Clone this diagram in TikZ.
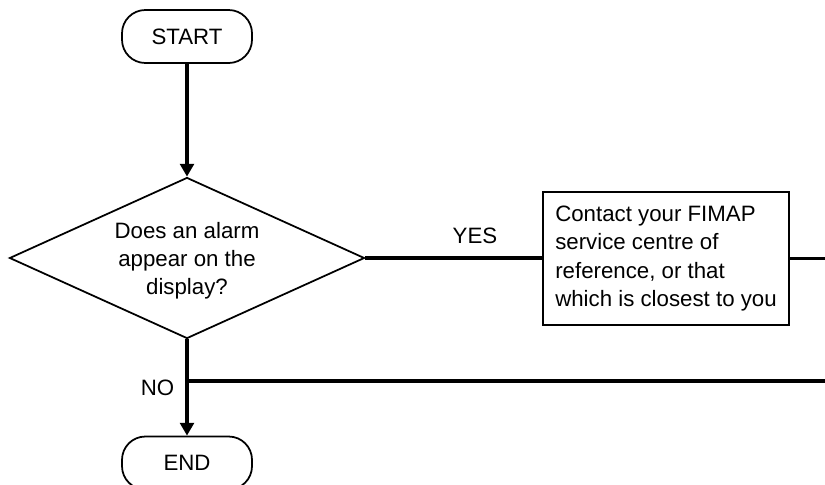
\documentclass[tikz,border=0pt]{standalone}
\usepackage{fontspec}
\setmainfont{Liberation Sans}
\usetikzlibrary{arrows.meta,positioning,calc,shapes.geometric}
\tikzset{
  terminal/.style   = {draw, line width=1.5pt, rounded corners=7mm, minimum width=39mm,
                       minimum height=15.9mm, inner sep=0pt},
  decision/.style   = {draw, diamond, line width=1.5pt, aspect=2.2, minimum width=106.5mm,
                       minimum height=48.3mm, inner sep=0pt, align=center},
  block/.style      = {draw, line width=1.5pt, minimum width=73.8mm, minimum height=39.9mm,
                       inner sep=0pt, align=left},
  sig/.style        = {-{Triangle[length=3.8mm, width=4.1mm]}, line width=2.6pt},
  wire/.style       = {line width=2.6pt},
  every node/.style = {font=\fontsize{19}{24}\selectfont},
  lbl/.style        = {inner sep=1pt},
}
\begin{document}
\begin{tikzpicture}
  \useasboundingbox (0,0) rectangle (24.75,-14.52);
  \node[terminal] (start) at (5.61,-1.095) {START};
  \node[decision] (alarm) at (5.61,-7.74) {\rule{0pt}{1.9ex}Does an alarm\\appear on the\\display?};
  \node[block] (contact) at (19.98,-7.755)
    {Contact your FIMAP\\service centre of\\reference, or that\\which is closest to you};
  \node[terminal] (end) at (5.61,-13.89) {END};
  \coordinate (yesout) at (25.0,-7.755);
  \coordinate (nojoin) at (5.61,-11.43);
  \coordinate (noout) at (25.0,-11.43);
  \draw[sig] (start) -- (alarm);
  \draw[wire] (alarm.east) -- (alarm.east -| contact.west)
    node[pos=0.62, yshift=6.75mm, lbl] {YES};
  \draw[wire] (contact.east |- yesout) -- (yesout);
  \draw[sig] (alarm.south) -- (end.north);
  \draw[wire] (nojoin) -- (noout);
  \node[lbl] (no) at ($(nojoin)+(-0.885,-0.21)$) {NO};
\end{tikzpicture}
\end{document}
